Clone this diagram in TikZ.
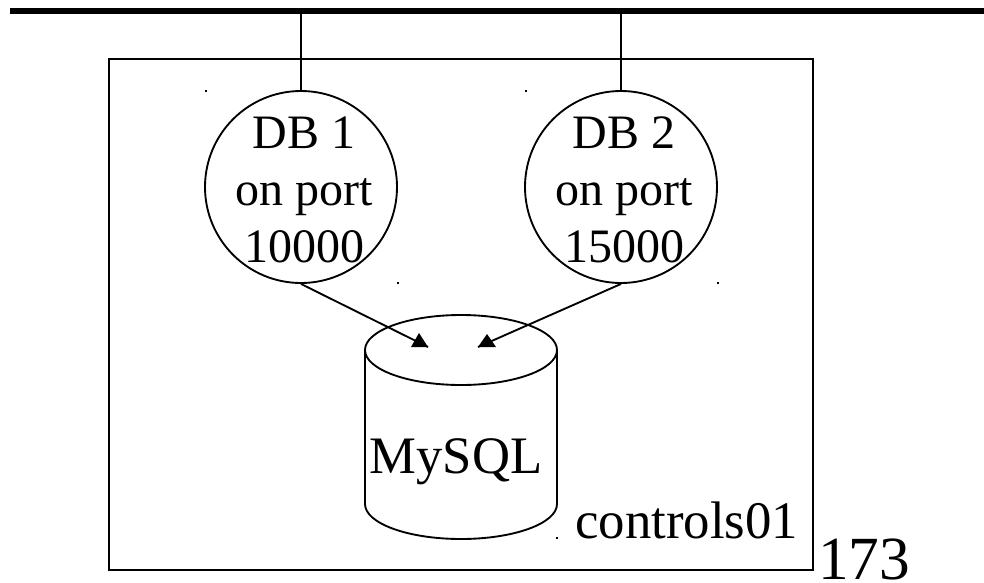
\documentclass[tikz,border=0pt]{standalone}
\usepackage{fontspec}
\setmainfont{Liberation Serif}
\usetikzlibrary{positioning}
\tikzset{
  px/.style={x=0.75pt, y=-0.75pt},
  rule/.style={line width=1.4pt},
  dbnode/.style={circle, draw, rule, minimum size=144pt, inner sep=0pt},
  dbtext/.style={align=center, inner sep=0pt, font=\fontsize{36}{42.75}\selectfont},
  hostbox/.style={draw, rule, minimum width=528pt, minimum height=383.25pt, inner sep=0pt},
  feed/.style={rule},
}

\begin{document}
\begin{tikzpicture}[px]
  \useasboundingbox (0,0) rectangle (984,582);
  \coordinate (barL) at (10,11);
  \coordinate (barR) at (984,11);
  \draw[line width=4.6pt] (barL) -- (barR);
  \node[hostbox] (host) at (461,314.5) {};
  \node[dbnode] (db1) at (301,187) {};
  \node[dbnode] (db2) at (621,187) {};
  \node[dbtext] at ([shift={(3,3)}]db1) {DB 1\\on port\\10000};
  \node[dbtext] at ([shift={(3,3)}]db2) {DB 2\\on port\\15000};
  \draw[rule] (db1.north) -- (db1.north |- barL);
  \draw[rule] (db2.north) -- (db2.north |- barL);
  % database cylinder
  \coordinate (cyltop) at (461,350);
  \draw[rule] (365,350) -- (365,504) arc[start angle=180, end angle=360, x radius=72pt, y radius=26.25pt] -- (557,350);
  \draw[rule] (cyltop) ellipse[x radius=72pt, y radius=26.25pt];
  \node[anchor=base, inner sep=0pt, font=\fontsize{39.5}{47}\selectfont] (mysql) at (456,473) {MySQL};
  \coordinate (in1) at (428,347);
  \coordinate (in2) at (478,347);
  \draw[feed] (db1.south) -- (in1);
  \draw[feed] (db2.south) -- (in2);
  \fill (in1) -- ++(-17,0) -- ++(8,-14) -- cycle;
  \fill (in2) -- ++(18,0) -- ++(-9,-13) -- cycle;
  \node[anchor=base west, inner sep=0pt, font=\fontsize{39.6}{47}\selectfont] (hostname) at (575,538) {controls01};
  \node[anchor=base west, inner sep=0pt, font=\fontsize{46}{55}\selectfont] (page) at (818,579) {173};
  \foreach \p in {(205,90),(525,90),(397,282),(717,282),(556,537)}
    \fill \p rectangle ++(2,2);
\end{tikzpicture}
\end{document}
